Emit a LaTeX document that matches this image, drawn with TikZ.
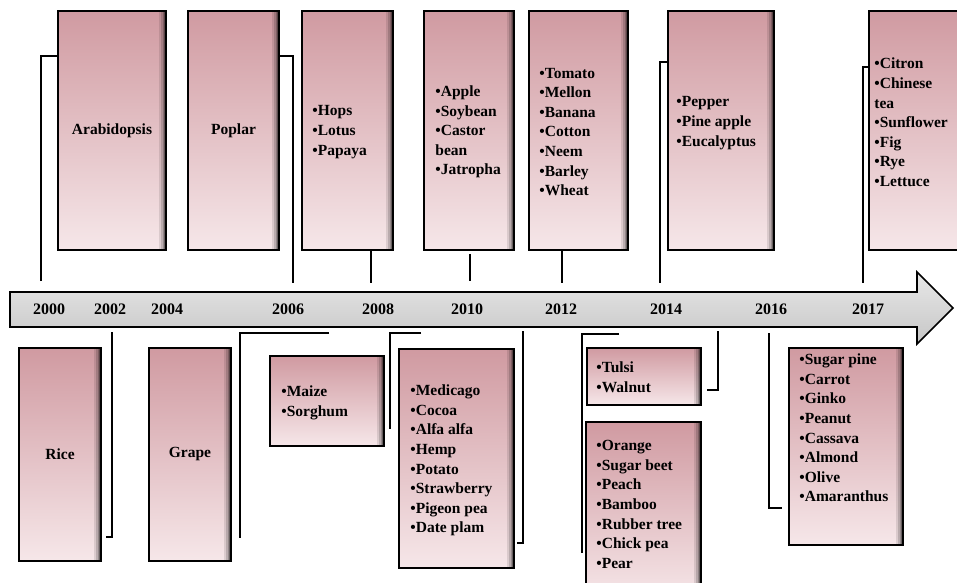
\documentclass[tikz,border=0pt]{standalone}
\usepackage{fontspec}
\setmainfont{Liberation Serif}
\usepackage{tikz}
\usetikzlibrary{calc}
\definecolor{cropTop}{HTML}{D09AA1}
\definecolor{cropBot}{HTML}{F6E7E9}
\definecolor{barTop}{HTML}{E8E8E8}
\definecolor{barBot}{HTML}{C6C6C6}

\begin{document}
\begin{tikzpicture}[x=1bp,y=-1bp,font=\bfseries\fontsize{15.5bp}{19.6bp}\selectfont,
  crop/.style={draw=black,line width=1.6bp,top color=cropTop,bottom color=cropBot,inner sep=0pt,align=center,
    path picture={\foreach \sx/\so in {7/.1,5/.15,3.5/.2,2/.3}
      \fill[black,opacity=\so] ([xshift=-\sx bp]path picture bounding box.north east) rectangle (path picture bounding box.south east);}},
  croplist/.style={anchor=west,align=left,inner sep=0pt},
  yr/.style={font=\bfseries\fontsize{16bp}{19bp}\selectfont},
  link/.style={line width=1.5bp}]
\useasboundingbox (0,0) rectangle (957,583);
\clip (0,0) rectangle (957,583);
\shade[top color=barTop,bottom color=barBot,draw=black,line width=1.6bp] (10,292)--(917,292)--(917,272)--(953,308)--(917,344)--(917,327)--(10,327)--cycle;
\node[yr] (y2000) at (49,309){2000};
\node[yr] (y2002) at (110,309){2002};
\node[yr] (y2004) at (167,309){2004};
\node[yr] (y2006) at (288,309){2006};
\node[yr] (y2008) at (378,309){2008};
\node[yr] (y2010) at (467,309){2010};
\node[yr] (y2012) at (561,309){2012};
\node[yr] (y2014) at (666,309){2014};
\node[yr] (y2016) at (771,309){2016};
\node[yr] (y2017) at (868,309){2017};
\node[crop,minimum width=108bp,minimum height=239bp] (arab) at (112,130.5){Arabidopsis};
\node[crop,minimum width=91bp,minimum height=239bp] (poplar) at (233.5,130.5){Poplar};
\node[crop,minimum width=91bp,minimum height=239bp] (hops) at (347.5,130.5){};
\node[crop,minimum width=90bp,minimum height=239bp] (apple) at (469,130.5){};
\node[crop,minimum width=99bp,minimum height=239bp] (tomato) at (578.5,130.5){};
\node[crop,minimum width=106bp,minimum height=239bp] (pepper) at (721,130.5){};
\node[crop,minimum width=106bp,minimum height=239bp] (citron) at (922,130.5){};
\node[crop,minimum width=82bp,minimum height=213bp] (rice) at (60,454.5){Rice};
\node[crop,minimum width=82bp,minimum height=213bp] (grape) at (190,454.5){Grape};
\node[crop,minimum width=114bp,minimum height=90bp] (maize) at (327,401){};
\node[crop,minimum width=115bp,minimum height=219bp] (medic) at (456.5,458.5){};
\node[crop,minimum width=114bp,minimum height=57bp] (tulsi) at (644,376.5){};
\node[crop,minimum width=115bp,minimum height=178bp] (orange) at (643.5,511){};
\node[crop,minimum width=114bp,minimum height=197bp] (sugar) at (846,446.5){};
\node[croplist] (hopsTxt) at ([xshift=11bp,yshift=-1.5bp]hops.west){•Hops\\•Lotus\\•Papaya};
\node[croplist] (appleTxt) at ([xshift=12bp,yshift=-1.5bp]apple.west){•Apple\\•Soybean\\•Castor\\bean\\•Jatropha};
\node[croplist] (tomatoTxt) at ([xshift=11bp,yshift=-1.5bp]tomato.west){•Tomato\\•Mellon\\•Banana\\•Cotton\\•Neem\\•Barley\\•Wheat};
\node[croplist] (pepperTxt) at ([xshift=9bp,yshift=7.5bp]pepper.west){•Pepper\\•Pine apple\\•Eucalyptus};
\node[croplist] (citronTxt) at ([xshift=6bp,yshift=8bp]citron.west){•Citron\\•Chinese\\tea\\•Sunflower\\•Fig\\•Rye\\•Lettuce};
\node[croplist] (maizeTxt) at ([xshift=12bp,yshift=-2bp]maize.west){•Maize\\•Sorghum};
\node[croplist] (medicTxt) at ([xshift=12bp,yshift=-2bp]medic.west){•Medicago\\•Cocoa\\•Alfa alfa\\•Hemp\\•Potato\\•Strawberry\\•Pigeon pea\\•Date plam};
\node[croplist] (tulsiTxt) at ([xshift=10bp,yshift=-1bp]tulsi.west){•Tulsi\\•Walnut};
\node[croplist] (orangeTxt) at ([xshift=11bp,yshift=6.5bp]orange.west){•Orange\\•Sugar beet\\•Peach\\•Bamboo\\•Rubber tree\\•Chick pea\\•Pear};
\node[croplist] (sugarTxt) at ([xshift=11bp,yshift=18.5bp]sugar.west){•Sugar pine\\•Carrot\\•Ginko\\•Peanut\\•Cassava\\•Almond\\•Olive\\•Amaranthus};
\coordinate (t2000) at (41,281);
\coordinate (t2006) at (293,283);
\coordinate (t2008) at (371,283);
\coordinate (t2010) at (470,281);
\coordinate (t2012) at (562,283);
\coordinate (t2014) at (660,283);
\coordinate (t2017) at (863,283);
\draw[link] (t2000) |- (arab.west |- 0,56);
\draw[link] (poplar.east |- 0,56) -| (t2006);
\draw[link] (hops.south -| t2008) -- (t2008);
\draw[link] ([yshift=-3bp]apple.south -| t2010) -- (t2010);
\draw[link] (tomato.south -| t2012) -- (t2012);
\draw[link] (pepper.west |- 0,62) -| (t2014);
\draw[link] (citron.west |- 0,67) -| (t2017);
\coordinate (b2002) at (112,332);
\coordinate (h2002) at (106,537);
\coordinate (b2006) at (329,333);
\coordinate (h2004) at (240,538);
\coordinate (b2008) at (421,333);
\coordinate (h2008) at (390,429);
\coordinate (b2010) at (523,331);
\coordinate (h2010) at (517,543);
\coordinate (b2013) at (619,334);
\coordinate (h2013) at (582,553);
\coordinate (b2014) at (718,331);
\coordinate (h2014) at (707,390);
\coordinate (b2016) at (769,333);
\coordinate (h2016) at (782,508);
\draw[link] (b2002) |- (h2002);
\draw[link] (b2006) -| (h2004);
\draw[link] (b2008) -| (h2008);
\draw[link] (b2010) |- (h2010);
\draw[link] (b2013) -| (h2013);
\draw[link] (b2014) |- (h2014);
\draw[link] (b2016) |- (h2016);
\end{tikzpicture}
\end{document}
